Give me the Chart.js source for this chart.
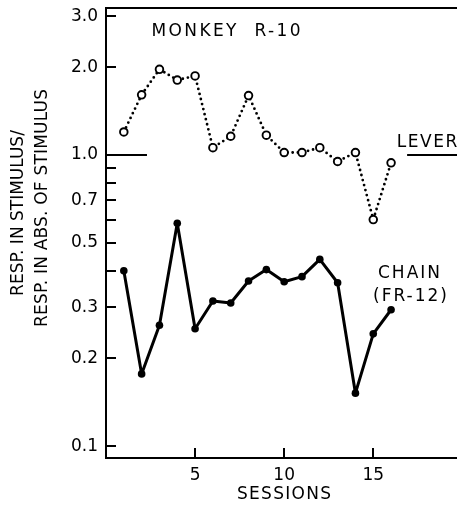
<!DOCTYPE html>
<html>
<head>
<meta charset="utf-8">
<script src="https://cdn.jsdelivr.net/npm/chart.js@4/dist/chart.umd.min.js"></script>
<style>
  html, body { margin: 0; padding: 0; background: #fff; }
  #wrap { width: 457px; height: 511px; }
</style>
</head>
<body>
<div id="wrap"><canvas id="c" width="457" height="511"></canvas></div>
<script>
const sessions = [1, 2, 3, 4, 5, 6, 7, 8, 9, 10, 11, 12, 13, 14, 15, 16];
const lever = [1.20, 1.61, 1.97, 1.81, 1.87, 1.06, 1.16, 1.60, 1.17, 1.02, 1.02, 1.06, 0.95, 1.02, 0.60, 0.94];
const chain = [0.40, 0.177, 0.26, 0.583, 0.253, 0.315, 0.31, 0.369, 0.404, 0.367, 0.382, 0.438, 0.364, 0.152, 0.243, 0.294];
const yTicks = [0.1, 0.2, 0.3, 0.4, 0.5, 0.6, 0.7, 0.8, 0.9, 1.0, 2.0, 3.0];
const yLabelled = [0.1, 0.2, 0.3, 0.5, 0.7, 1.0, 2.0, 3.0];
const xTicks = [5, 10, 15];
const unityLeft = [0, 2.3];
const unityRight = [16.9, 19.7];
const unityValue = 1.0;

const FONT = '"DejaVu Sans", "Liberation Sans", sans-serif';

const decor = {
  id: 'decor',
  afterDraw(chart) {
    const ctx = chart.ctx;
    const a = chart.chartArea;
    const xs = chart.scales.x, ys = chart.scales.y;
    ctx.save();
    ctx.strokeStyle = '#000';
    ctx.lineWidth = 2;
    ctx.lineCap = 'butt';
    // frame: left, bottom, top
    ctx.beginPath();
    ctx.moveTo(a.right, a.top); ctx.lineTo(a.left, a.top); ctx.lineTo(a.left, a.bottom); ctx.lineTo(a.right, a.bottom);
    ctx.stroke();
    // inside ticks
    ctx.beginPath();
    yTicks.forEach(v => {
      const y = Math.round(ys.getPixelForValue(v));
      ctx.moveTo(a.left, y); ctx.lineTo(a.left + 10, y);
    });
    xTicks.forEach(v => {
      const x = Math.round(xs.getPixelForValue(v));
      ctx.moveTo(x, a.bottom); ctx.lineTo(x, a.bottom - 10);
    });
    ctx.stroke();

    ctx.fillStyle = '#000';
    ctx.textBaseline = 'middle';
    const txt = (s, x, y, size, sp) => {
      ctx.font = size + 'px ' + FONT;
      ctx.letterSpacing = sp + 'px';
      const w = ctx.measureText(s).width;
      ctx.textAlign = 'left';
      ctx.fillText(s, x - (w - sp) / 2, y);
    };
    txt('MONKEY  R-10', 226, 32, 17, 2.4);
    txt('LEVER', 427, 143, 17, 1.5);
    txt('CHAIN', 409, 274, 17, 2);
    txt('(FR-12)', 410, 297, 17, 2);
    txt('SESSIONS', 284, 495, 17, 1.3);
    // y title, two rotated lines
    ctx.save();
    ctx.translate(19, 213);
    ctx.rotate(-Math.PI / 2);
    txt('RESP. IN STIMULUS/', 0, 0, 17, 0);
    ctx.restore();
    ctx.save();
    ctx.translate(43, 208);
    ctx.rotate(-Math.PI / 2);
    txt('RESP. IN ABS. OF STIMULUS', 0, 0, 17, 0.2);
    ctx.restore();
    ctx.restore();
  }
};

new Chart(document.getElementById('c'), {
  type: 'line',
  data: {
    datasets: [
      {
        label: 'Lever',
        data: sessions.map((s, i) => ({ x: s, y: lever[i] })),
        borderColor: '#000',
        borderWidth: 2.8,
        borderDash: [0, 5.2],
        borderCapStyle: 'round',
        tension: 0,
        pointRadius: 3.8,
        pointBorderWidth: 1.9,
        pointBackgroundColor: '#fff',
        pointBorderColor: '#000'
      },
      {
        label: 'Chain (FR-12)',
        data: sessions.map((s, i) => ({ x: s, y: chain[i] })),
        borderColor: '#000',
        borderWidth: 3,
        tension: 0,
        borderJoinStyle: 'round',
        pointRadius: 3.8,
        pointBorderWidth: 0,
        pointBackgroundColor: '#000'
      },
      {
        label: 'unity left',
        data: unityLeft.map(x => ({ x: x, y: unityValue })),
        borderColor: '#000',
        borderWidth: 2,
        pointRadius: 0
      },
      {
        label: 'unity right',
        data: unityRight.map(x => ({ x: x, y: unityValue })),
        borderColor: '#000',
        borderWidth: 2,
        pointRadius: 0
      }
    ]
  },
  options: {
    responsive: false,
    animation: false,
    devicePixelRatio: 1,
    layout: { autoPadding: false, padding: { top: 8, right: 0, left: 0, bottom: 0 } },
    plugins: { legend: { display: false }, tooltip: { enabled: false } },
    scales: {
      x: {
        type: 'linear',
        min: 0,
        max: 19.7,
        afterFit: s => { s.height = 53; s.paddingLeft = 0; s.paddingRight = 0; },
        afterBuildTicks: s => { s.ticks = xTicks.map(v => ({ value: v })); },
        grid: { display: false, drawTicks: false },
        border: { display: false },
        ticks: {
          color: '#000',
          padding: 7,
          maxRotation: 0,
          autoSkip: false,
          font: { family: FONT, size: 17 },
          callback: v => String(v)
        }
      },
      y: {
        type: 'logarithmic',
        min: 0.091,
        max: 3.2,
        afterFit: s => { s.width = 106; s.paddingTop = 0; s.paddingBottom = 0; },
        afterBuildTicks: s => { s.ticks = yTicks.map(v => ({ value: v })); },
        grid: { display: false, drawTicks: false },
        border: { display: false },
        ticks: {
          color: '#000',
          padding: 8,
          autoSkip: false,
          font: { family: FONT, size: 17 },
          callback: v => yLabelled.some(t => Math.abs(t - v) < 1e-9) ? v.toFixed(1) : ''
        }
      }
    }
  },
  plugins: [decor]
});
</script>
</body>
</html>
